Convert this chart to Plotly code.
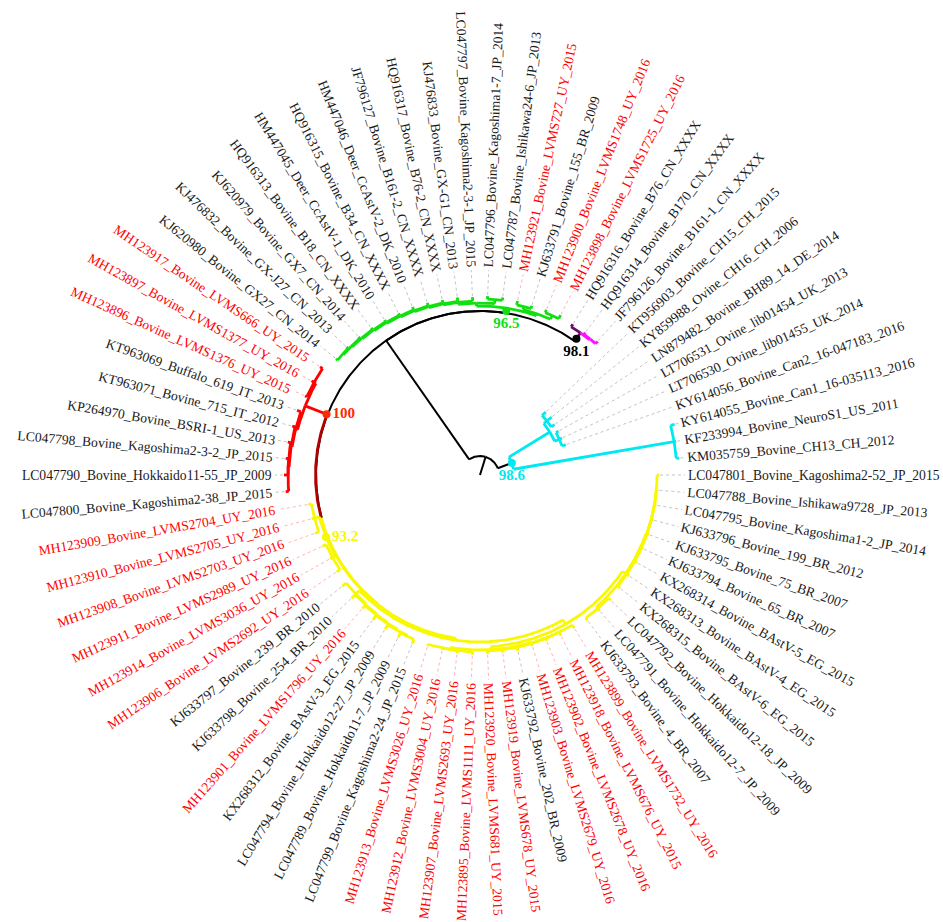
import math
import plotly.graph_objects as go

# Tip labels in circular order (counter-clockwise, starting just above 3 o'clock)
TAXA = [
    "KM035759_Bovine_CH13_CH_2012",
    "KF233994_Bovine_NeuroS1_US_2011",
    "KY614055_Bovine_Can1_16-035113_2016",
    "KY614056_Bovine_Can2_16-047183_2016",
    "LT706530_Ovine_lib01455_UK_2014",
    "LT706531_Ovine_lib01454_UK_2013",
    "LN879482_Bovine_BH89_14_DE_2014",
    "KY859988_Ovine_CH16_CH_2006",
    "KT956903_Bovine_CH15_CH_2015",
    "JF796126_Bovine_B161-1_CN_XXXX",
    "HQ916314_Bovine_B170_CN_XXXX",
    "HQ916316_Bovine_B76_CN_XXXX",
    "MH123898_Bovine_LVMS1725_UY_2016",
    "MH123900_Bovine_LVMS1748_UY_2016",
    "KJ633791_Bovine_155_BR_2009",
    "MH123921_Bovine_LVMS727_UY_2015",
    "LC047787_Bovine_Ishikawa24-6_JP_2013",
    "LC047796_Bovine_Kagoshima1-7_JP_2014",
    "LC047797_Bovine_Kagoshima2-3-1_JP_2015",
    "KJ476833_Bovine_GX-G1_CN_2013",
    "HQ916317_Bovine_B76-2_CN_XXXX",
    "JF796127_Bovine_B161-2_CN_XXXX",
    "HM447046_Deer_CcAstV-2_DK_2010",
    "HQ916315_Bovine_B34_CN_XXXX",
    "HM447045_Deer_CcAstV-1_DK_2010",
    "HQ916313_Bovine_B18_CN_XXXX",
    "KJ620979_Bovine_GX7_CN_2014",
    "KJ476832_Bovine_GX-J27_CN_2013",
    "KJ620980_Bovine_GX27_CN_2014",
    "MH123917_Bovine_LVMS666_UY_2015",
    "MH123897_Bovine_LVMS1377_UY_2016",
    "MH123896_Bovine_LVMS1376_UY_2015",
    "KT963069_Buffalo_619_IT_2013",
    "KT963071_Bovine_715_IT_2012",
    "KP264970_Bovine_BSRI-1_US_2013",
    "LC047798_Bovine_Kagoshima2-3-2_JP_2015",
    "LC047790_Bovine_Hokkaido11-55_JP_2009",
    "LC047800_Bovine_Kagoshima2-38_JP_2015",
    "MH123909_Bovine_LVMS2704_UY_2016",
    "MH123910_Bovine_LVMS2705_UY_2016",
    "MH123908_Bovine_LVMS2703_UY_2016",
    "MH123911_Bovine_LVMS2989_UY_2016",
    "MH123914_Bovine_LVMS3036_UY_2016",
    "MH123906_Bovine_LVMS2692_UY_2016",
    "KJ633797_Bovine_239_BR_2010",
    "KJ633798_Bovine_254_BR_2010",
    "MH123901_Bovine_LVMS1796_UY_2016",
    "KX268312_Bovine_BAstV-3_EG_2015",
    "LC047794_Bovine_Hokkaido12-27_JP_2009",
    "LC047789_Bovine_Hokkaido11-7_JP_2009",
    "LC047799_Bovine_Kagoshima2-24_JP_2015",
    "MH123913_Bovine_LVMS3026_UY_2016",
    "MH123912_Bovine_LVMS3004_UY_2016",
    "MH123907_Bovine_LVMS2693_UY_2016",
    "MH123895_Bovine_LVMS1111_UY_2016",
    "MH123920_Bovine_LVMS681_UY_2015",
    "MH123919_Bovine_LVMS678_UY_2015",
    "KJ633792_Bovine_202_BR_2009",
    "MH123903_Bovine_LVMS2679_UY_2016",
    "MH123902_Bovine_LVMS2678_UY_2016",
    "MH123918_Bovine_LVMS676_UY_2015",
    "MH123899_Bovine_LVMS1732_UY_2016",
    "KJ633793_Bovine_4_BR_2007",
    "LC047791_Bovine_Hokkaido12-7_JP_2009",
    "LC047792_Bovine_Hokkaido12-18_JP_2009",
    "KX268315_Bovine_BAstV-6_EG_2015",
    "KX268313_Bovine_BAstV-4_EG_2015",
    "KX268314_Bovine_BAstV-5_EG_2015",
    "KJ633794_Bovine_65_BR_2007",
    "KJ633795_Bovine_75_BR_2007",
    "KJ633796_Bovine_199_BR_2012",
    "LC047795_Bovine_Kagoshima1-2_JP_2014",
    "LC047788_Bovine_Ishikawa9728_JP_2013",
    "LC047801_Bovine_Kagoshima2-52_JP_2015",
]

# Tree topology; tips are indices into TAXA, branch lengths in drawing units
TREE = (
    "(((0:3,1:2,2:4)CA:163,((3:4,4:3,5:3)CB1:5,(6:4,7:6,8:5)CB2:4)CB:48)C0:15,"
    "((((9:3,10:2)PM:1,11:3)P:7)P0:3,"
    "((((12:4,13:3)G2a:4,(14:3,15:4)G2b:3)G2:2,"
    "((16:3,17:3)G1a:4,(18:4,(19:4,(20:3,(21:3,(22:3,(23:2,(24:2,(25:2,(26:2,"
    "(27:2,28:2)L9:1)L8:1)L7:1)L6:1)L5:1)L4:1)L3:1)L2:1)L1:1)G1b:2)G1:3)G:3)G0:2,"
    "((((29:3,30:3,31:2)RA:2,(32:4,(33:3,(34:3,35:3,36:4,37:3)RB3:1)RB2:1)RB:2)Rs:23)R0:0.5,"
    "(((38:3,39:3,40:4)Y1a:5,(41:4,42:3,43:4)Y1b:3)Y1:1,"
    "((44:5,(45:5,(46:4,(47:5,(48:5,(49:5,50:5)Q5:1)Q4:1)Q3:1)Q2:1)Q1:1)Y2a:5,"
    "(((51:2,52:2,53:3,54:3)Y2b1a:2,(55:3,56:3,57:4,58:3,59:3,60:4,61:4)Y2b1b:1)Y2b1:3,"
    "((62:3,63:3,64:3)Y2b2a:2,(65:3,66:3,67:3,68:2,69:2,70:2,71:2,72:2,73:2)Y2b2b:1)Y2b2:4"
    ")Y2b:5)Y2:2)Y:0.5)B:0.5)M:145)N0:19;"
)

# Clade colouring (applies to the named node and everything below it)
CLADE_NODES = ["CA", "CB", "P", "PM", "G", "R0", "Rs", "Y"]
CLADE_COLORS = ["#00e8f0", "#00e8f0", "#6a0a6a", "#ff10ff", "#10e010", "#b00000", "#ff0000", "#f8f800"]

# Node support values
SUPPORT_NODES = ["C0", "P0", "G0", "R0", "Y1"]
SUPPORT_VALUES = ["98.6", "98.1", "96.5", "100", "93.2"]
SUPPORT_COLORS = ["#00e8f0", "#000000", "#10e010", "#ff2a00", "#f8f800"]

R_LABEL = 208
LABEL_FONT = 13.6


def parse_newick(s):
    s = s.strip().rstrip(";")
    pos = 0

    def node():
        nonlocal pos
        children = []
        if s[pos] == "(":
            pos += 1
            while True:
                children.append(node())
                if s[pos] == ",":
                    pos += 1
                    continue
                if s[pos] == ")":
                    pos += 1
                    break
        start = pos
        while pos < len(s) and s[pos] not in ",():":
            pos += 1
        name = s[start:pos]
        length = 0.0
        if pos < len(s) and s[pos] == ":":
            pos += 1
            start = pos
            while pos < len(s) and s[pos] not in ",()":
                pos += 1
            length = float(s[start:pos])
        return {"name": name, "length": length, "children": children}

    return node()


clade_color = dict(zip(CLADE_NODES, CLADE_COLORS))
step = 360.0 / len(TAXA)


def layout(n, parent_depth, color):
    n["depth"] = parent_depth + n["length"]
    n["color"] = clade_color.get(n["name"], color)
    if not n["children"]:
        n["angle"] = (int(n["name"]) + 1) * step
    else:
        for c in n["children"]:
            layout(c, n["depth"], n["color"])
        n["angle"] = (n["children"][0]["angle"] + n["children"][-1]["angle"]) / 2


root = parse_newick(TREE)
layout(root, 0.0, "#000000")


def pol(r, a):
    t = math.radians(a)
    return r * math.cos(t), r * math.sin(t)


segs = {}


def add_line(color, pts):
    xs, ys = segs.setdefault(color, ([], []))
    for x, y in pts:
        xs.append(x)
        ys.append(y)
    xs.append(None)
    ys.append(None)


def radial(color, r0, r1, a):
    add_line(color, [pol(r0, a), pol(r1, a)])


def arc(color, r, a0, a1):
    n = max(2, int(abs(a1 - a0) / 0.5) + 2)
    add_line(color, [pol(r, a0 + (a1 - a0) * i / (n - 1)) for i in range(n)])


nodes = {}
leaves = []


def walk(n, parent_depth):
    nodes[n["name"]] = (n, parent_depth)
    radial(n["color"], parent_depth, n["depth"], n["angle"])
    if n["children"]:
        for c in n["children"]:
            arc(c["color"], n["depth"], n["angle"], c["angle"])
            walk(c, n["depth"])
    else:
        leaves.append(n)


walk(root, 0.0)

fig = go.Figure()

# dotted leader lines from tips to labels
grey_x, grey_y, pink_x, pink_y = [], [], [], []
for lf in leaves:
    name = TAXA[int(lf["name"])]
    x0, y0 = pol(lf["depth"] + 1, lf["angle"])
    x1, y1 = pol(R_LABEL - 3, lf["angle"])
    if "_UY_" in name:
        pink_x += [x0, x1, None]
        pink_y += [y0, y1, None]
    else:
        grey_x += [x0, x1, None]
        grey_y += [y0, y1, None]
fig.add_trace(go.Scatter(x=grey_x, y=grey_y, mode="lines", hoverinfo="skip",
                         line=dict(color="#c4c4c4", width=1, dash="dot")))
fig.add_trace(go.Scatter(x=pink_x, y=pink_y, mode="lines", hoverinfo="skip",
                         line=dict(color="#ffb4b4", width=1, dash="dot")))

# branches, black first so clade colours sit on top
order = ["#000000"] + [c for c in segs if c != "#000000"]
for col in order:
    if col not in segs:
        continue
    xs, ys = segs[col]
    fig.add_trace(go.Scatter(x=xs, y=ys, mode="lines", hoverinfo="skip",
                             line=dict(color=col, width=2 if col == "#000000" else 2.8)))

# support values at nodes
text_pos = {"C0": "bottom center", "P0": "bottom center", "G0": "bottom center",
            "R0": "middle right", "Y1": "middle right"}
for nm, val, col in zip(SUPPORT_NODES, SUPPORT_VALUES, SUPPORT_COLORS):
    n, pdepth = nodes[nm]
    x, y = pol(n["depth"], n["angle"])
    fig.add_trace(go.Scatter(x=[x], y=[y], mode="markers+text", text=[val],
                             textposition=text_pos[nm],
                             marker=dict(size=8, color=col),
                             textfont=dict(family="Liberation Serif", size=15, color=col, weight="bold"),
                             hoverinfo="skip"))

# tip labels, rotated along their rays
h = LABEL_FONT * 1.15
annotations = []
for lf in leaves:
    name = TAXA[int(lf["name"])]
    phi = lf["angle"] % 360
    t = math.radians(phi)
    c, s = math.cos(t), math.sin(t)
    sx, sy = R_LABEL * c, R_LABEL * s
    if c >= 0:
        xanchor = "left"
        ang = -phi if phi <= 90 else 360 - phi
        if s >= 0:
            yanchor = "bottom"
            ax, ay = sx - h / 2 * s, sy - h / 2 * c
        else:
            yanchor = "top"
            ax, ay = sx - h / 2 * abs(s), sy + h / 2 * c
    else:
        xanchor = "right"
        ang = 180 - phi
        if s >= 0:
            yanchor = "bottom"
            ax, ay = sx + h / 2 * abs(s), sy - h / 2 * abs(c)
        else:
            yanchor = "top"
            ax, ay = sx + h / 2 * abs(s), sy + h / 2 * abs(c)
    annotations.append(dict(
        x=ax, y=ay, xref="x", yref="y", text=name, showarrow=False,
        textangle=ang, xanchor=xanchor, yanchor=yanchor, borderpad=0, borderwidth=0,
        font=dict(family="Liberation Serif", size=LABEL_FONT,
                  color="#ff0000" if "_UY_" in name else "#1a1a1a"),
    ))

fig.update_layout(
    width=943, height=922,
    margin=dict(l=0, r=0, t=0, b=0),
    paper_bgcolor="white", plot_bgcolor="white",
    showlegend=False,
    xaxis=dict(range=[-480, 463], visible=False, fixedrange=True),
    yaxis=dict(range=[-447, 475], visible=False, fixedrange=True),
    annotations=annotations,
)

fig.write_html("out.html")
